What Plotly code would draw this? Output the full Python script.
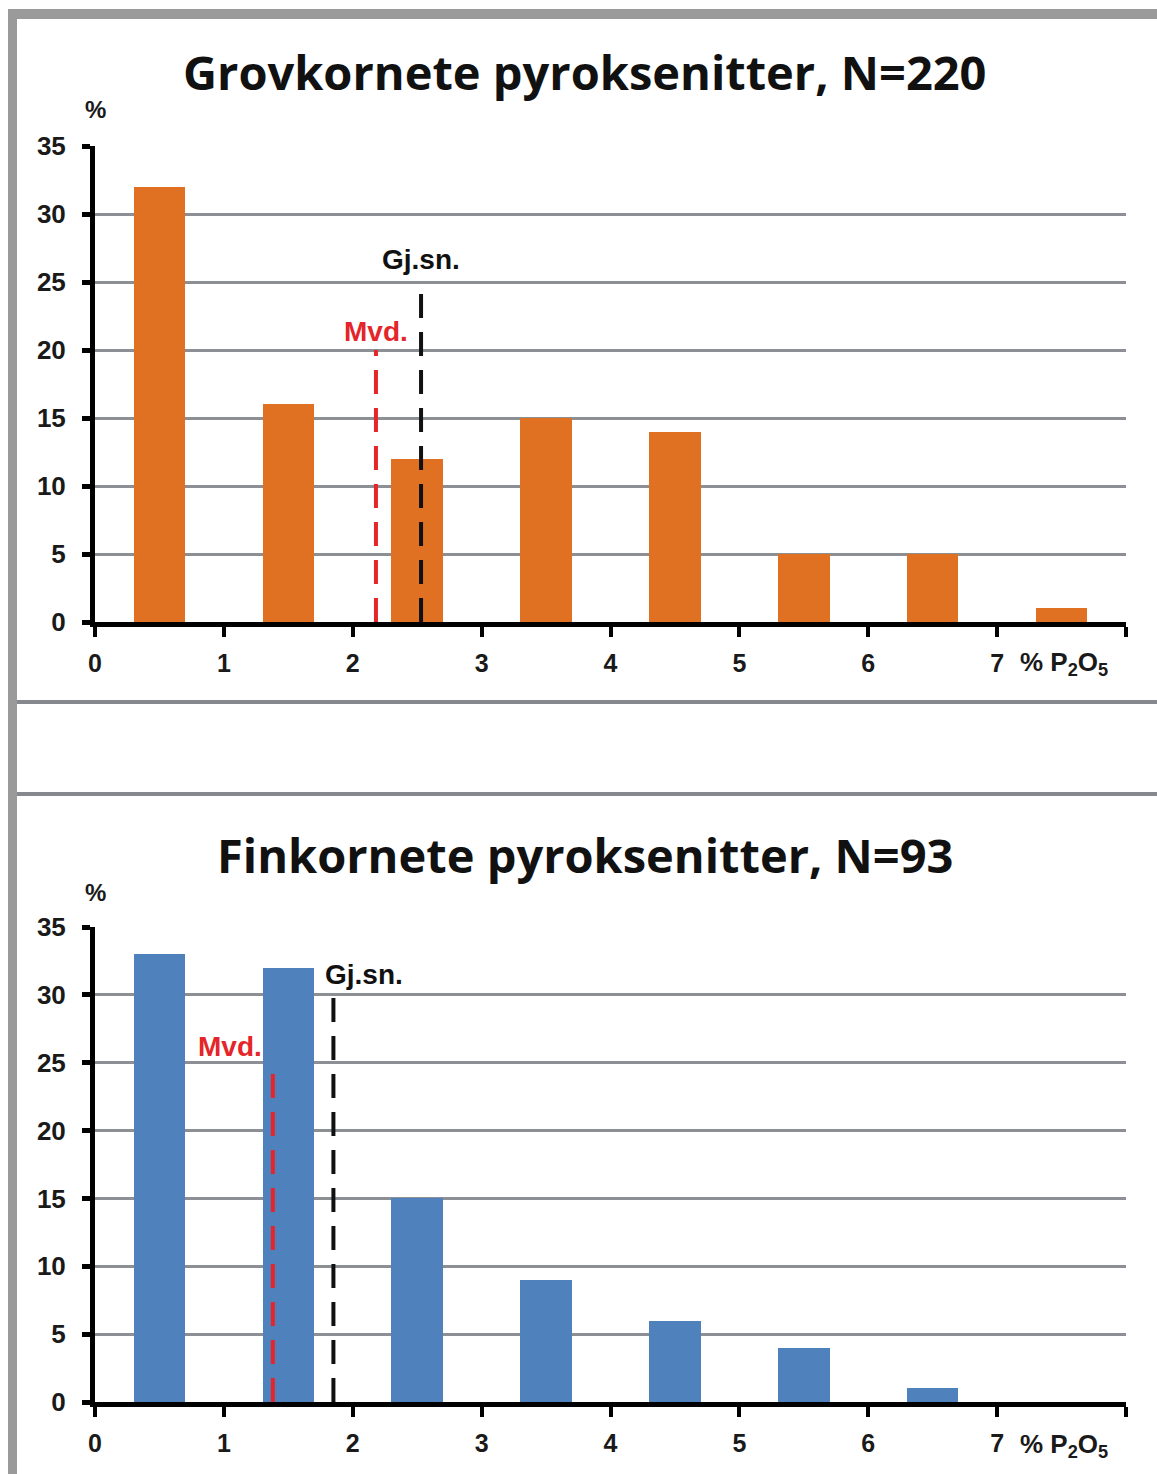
import plotly.graph_objects as go

W, H = 1157, 1474

# ---- data ----
bins = [0.5, 1.5, 2.5, 3.5, 4.5, 5.5, 6.5, 7.5]
grov_pct = [32, 16, 12, 15, 14, 5, 5, 1]
fin_pct = [33, 32, 15, 9, 6, 4, 1, 0]
grov_title = "Grovkornete pyroksenitter, N=220"
fin_title = "Finkornete pyroksenitter, N=93"
grov_mvd, grov_gjsn = 2.18, 2.53
fin_mvd, fin_gjsn = 1.38, 1.85
grov_mvd_top, grov_gjsn_top = 20, 25
fin_mvd_top, fin_gjsn_top = 25, 30
x_ticks = [0, 1, 2, 3, 4, 5, 6, 7, 8]
x_ticktext = ["0", "1", "2", "3", "4", "5", "6", "7", ""]
y_ticks = [0, 5, 10, 15, 20, 25, 30, 35]

ORANGE = "#E07022"
BLUE = "#4F81BD"
GRID = "#8C8F93"
FRAME = "#9A9A9A"
XTICKFONT = dict(family="Liberation Sans", size=25, color="#1a1a1a", weight="bold")
YTICKFONT = dict(family="Liberation Sans", size=26, color="#1a1a1a", weight="bold")

def px(x):
    return x / W

def py(y):
    return 1 - y / H

fig = go.Figure()
fig.add_trace(go.Bar(x=bins, y=grov_pct, width=0.4, marker=dict(color=ORANGE, line=dict(width=0)),
                     xaxis="x", yaxis="y", showlegend=False))
fig.add_trace(go.Bar(x=bins, y=fin_pct, width=0.4, marker=dict(color=BLUE, line=dict(width=0)),
                     xaxis="x2", yaxis="y2", showlegend=False))

xdom = [px(95), px(1126)]
axis_common_x = dict(range=[0, 8], tickvals=x_ticks, ticktext=x_ticktext, showgrid=False,
                     showline=True, linecolor="black", linewidth=5, ticks="outside", ticklen=10,
                     tickwidth=4, tickcolor="black", tickfont=XTICKFONT, zeroline=False,
                     ticklabelstandoff=5, fixedrange=True, automargin=False)
axis_common_y = dict(range=[0, 35], tickvals=y_ticks, showgrid=True, gridcolor=GRID, gridwidth=3,
                     showline=True, linecolor="black", linewidth=5, ticks="outside", ticklen=8,
                     tickwidth=5, tickcolor="black", tickfont=YTICKFONT, zeroline=False,
                     ticklabelstandoff=11, fixedrange=True, automargin=False)

fig.update_layout(
    width=W, height=H, margin=dict(l=0, r=0, t=0, b=0, pad=0, autoexpand=False),
    paper_bgcolor="white", plot_bgcolor="white",
    bargap=0,
    xaxis=dict(domain=xdom, anchor="y", **axis_common_x),
    yaxis=dict(domain=[py(622), py(146)], anchor="x", **axis_common_y),
    xaxis2=dict(domain=xdom, anchor="y2", **axis_common_x),
    yaxis2=dict(domain=[py(1402), py(927)], anchor="x2", **axis_common_y),
)

shapes = []
# frame
shapes.append(dict(type="rect", xref="paper", yref="paper", x0=px(8), x1=px(17), y0=0, y1=py(9),
                   fillcolor=FRAME, line=dict(width=0), layer="above"))
shapes.append(dict(type="rect", xref="paper", yref="paper", x0=px(8), x1=1, y0=py(19), y1=py(9),
                   fillcolor=FRAME, line=dict(width=0), layer="above"))
for y0, y1 in [(700, 704), (792, 796)]:
    shapes.append(dict(type="rect", xref="paper", yref="paper", x0=px(17), x1=1, y0=py(y1), y1=py(y0),
                       fillcolor="#85888C", line=dict(width=0), layer="above"))

# mean / median lines
def vline(xv, top, color, xr, yr):
    return dict(type="line", xref=xr, yref=yr, x0=xv, x1=xv, y0=0, y1=top,
                line=dict(color=color, width=4, dash="24px,14px"), layer="above")

RED = "#E4262A"
shapes.append(vline(grov_mvd, grov_mvd_top, RED, "x", "y"))
shapes.append(vline(grov_gjsn, grov_gjsn_top, "#111111", "x", "y"))
shapes.append(vline(fin_mvd, fin_mvd_top, RED, "x2", "y2"))
shapes.append(vline(fin_gjsn, fin_gjsn_top, "#111111", "x2", "y2"))
fig.update_layout(shapes=shapes)

LBL = dict(family="Liberation Sans", size=24)
LINELBL = dict(family="Liberation Sans", size=28)
TFONT = dict(family="Open Sans", size=47, color="#111111")
ann = []
ann.append(dict(text="<b>" + grov_title + "</b>", x=px(585), y=py(72), xref="paper", yref="paper",
                showarrow=False, font=TFONT, xanchor="center", yanchor="middle"))
ann.append(dict(text="<b>" + fin_title + "</b>", x=px(585), y=py(855), xref="paper", yref="paper",
                showarrow=False, font=TFONT, xanchor="center", yanchor="middle"))
for yy in [110, 892]:
    ann.append(dict(text="<b>%</b>", x=px(95), y=py(yy), xref="paper", yref="paper", showarrow=False,
                    font=dict(LBL, color="#1a1a1a"), xanchor="center", yanchor="middle"))
for yy in [664, 1445]:
    ann.append(dict(text="<b>% P<sub>2</sub>O<sub>5</sub></b>", x=px(1018), y=py(yy), xref="paper",
                    yref="paper", showarrow=False, font=dict(family="Liberation Sans", size=26,
                                                             color="#1a1a1a"),
                    xanchor="left", yanchor="middle"))
# line labels
ann.append(dict(text="<b>Gj.sn.</b>", x=grov_gjsn, y=grov_gjsn_top, xref="x", yref="y", showarrow=False,
                font=dict(LINELBL, color="#111111"), xanchor="center", yanchor="bottom", yshift=5))
ann.append(dict(text="<b>Mvd.</b>", x=grov_mvd, y=grov_mvd_top, xref="x", yref="y", showarrow=False,
                font=dict(LINELBL, color=RED), xanchor="center", yanchor="bottom", yshift=1))
ann.append(dict(text="<b>Gj.sn.</b>", x=fin_gjsn, y=fin_gjsn_top, xref="x2", yref="y2", showarrow=False,
                font=dict(LINELBL, color="#111111"), xanchor="left", yanchor="bottom", xshift=-10,
                yshift=3))
ann.append(dict(text="<b>Mvd.</b>", x=fin_mvd, y=fin_mvd_top, xref="x2", yref="y2", showarrow=False,
                font=dict(LINELBL, color=RED), xanchor="right", yanchor="bottom", xshift=-9,
                yshift=-1))
fig.update_layout(annotations=ann)

fig.write_html("out.html", config={"displayModeBar": False},
               post_script="document.body.style.margin='0';document.body.style.overflow='hidden';")
